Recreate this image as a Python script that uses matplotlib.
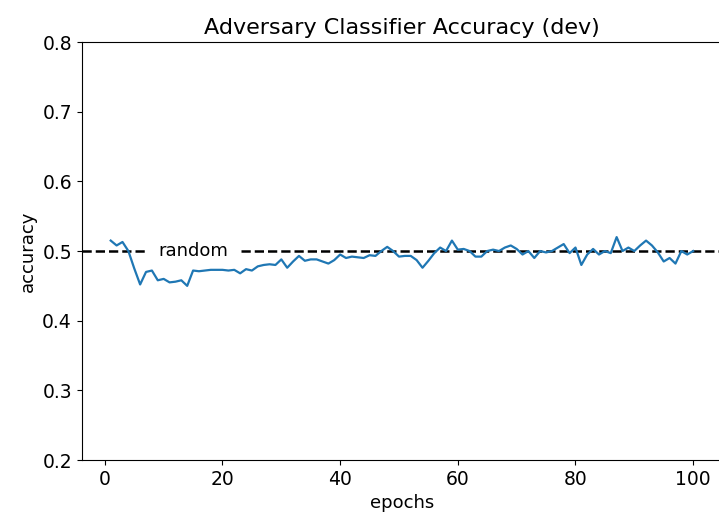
import matplotlib
matplotlib.use("Agg")
import matplotlib.pyplot as plt

epochs = list(range(1, 101))
accuracy = [
    0.515, 0.508, 0.513, 0.500, 0.475, 0.452, 0.470, 0.472, 0.458, 0.460,
    0.455, 0.456, 0.458, 0.450, 0.472, 0.471, 0.472, 0.473, 0.473, 0.473,
    0.472, 0.473, 0.468, 0.474, 0.472, 0.478, 0.480, 0.481, 0.480, 0.488,
    0.476, 0.485, 0.493, 0.486, 0.488, 0.488, 0.485, 0.482, 0.487, 0.495,
    0.490, 0.492, 0.491, 0.490, 0.494, 0.493, 0.500, 0.506, 0.500, 0.492,
    0.493, 0.493, 0.487, 0.476, 0.486, 0.497, 0.505, 0.500, 0.515, 0.502,
    0.503, 0.500, 0.492, 0.492, 0.500, 0.502, 0.500, 0.505, 0.508, 0.503,
    0.495, 0.500, 0.490, 0.500, 0.498, 0.500, 0.505, 0.510, 0.497, 0.505,
    0.480, 0.495, 0.503, 0.495, 0.500, 0.497, 0.520, 0.500, 0.505, 0.500,
    0.508, 0.515, 0.508, 0.498, 0.485, 0.490, 0.482, 0.500, 0.495, 0.500,
]
random_level = 0.5

fig = plt.figure(figsize=(7.19, 5.16), dpi=100)
ax = fig.add_axes([0.1135, 0.1085, 0.891, 0.81])

ax.plot(epochs, accuracy, color="#1f77b4", linewidth=1.6, zorder=6)
ax.axhline(random_level, color="k", linestyle="--", linewidth=1.8, zorder=2)
ax.text(15, random_level, "random", ha="center", va="center", fontsize=13,
        bbox=dict(facecolor="white", edgecolor="none", pad=7), zorder=5)

ax.set_ylim(0.2, 0.8)
ax.set_title("Adversary Classifier Accuracy (dev)", fontsize=16)
ax.set_xlabel("epochs", fontsize=13)
ax.set_ylabel("accuracy", fontsize=13)
ax.tick_params(labelsize=13.5)

fig.savefig("out.png", dpi=100)
